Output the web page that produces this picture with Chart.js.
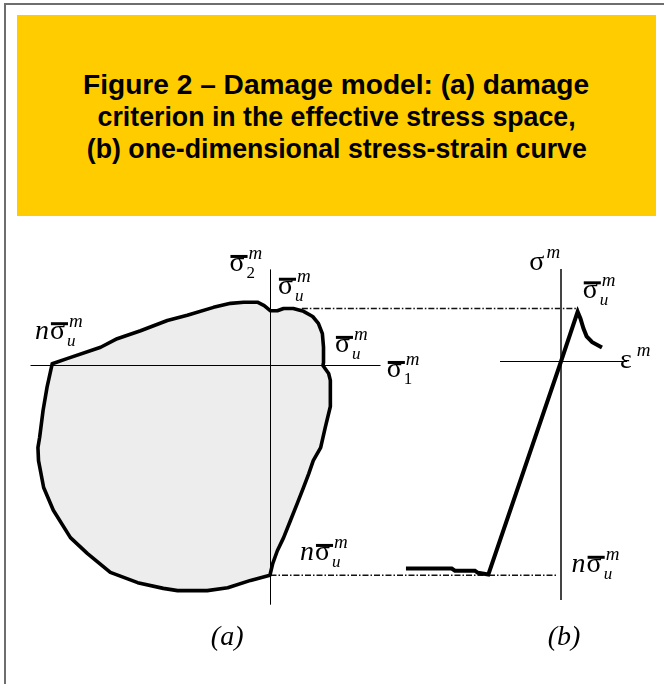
<!DOCTYPE html>
<html>
<head>
<meta charset="utf-8">
<script src="https://cdn.jsdelivr.net/npm/chart.js@4.4.0/dist/chart.umd.min.js"></script>
<style>
  html, body { margin: 0; padding: 0; background: #fff; }
  body { width: 664px; height: 684px; position: relative; overflow: hidden; }
  #frame { position: absolute; left: 4px; top: 3px; width: 720px; height: 720px;
           border-left: 2px solid #6e6e6e; border-top: 2px solid #6e6e6e; }
  #banner { position: absolute; left: 17px; top: 15px; width: 639px; height: 201px; background: #ffcc00; }
  #title { position: absolute; left: 0; top: 54px; width: 100%; text-align: center;
           font: bold 27px "Liberation Sans", Arial, sans-serif; line-height: 32px; color: #000; }
  #title span { display: inline-block; white-space: nowrap; transform-origin: 50% 50%; }
  #plot { position: absolute; left: 0; top: 230px; }
</style>
</head>
<body>
<div id="frame"></div>
<div id="banner">
  <div id="title"><span>Figure 2 – Damage model: (a) damage</span><br><span>criterion in the effective stress space,</span><br><span>(b) one-dimensional stress-strain curve</span></div>
</div>
<canvas id="plot" width="664" height="454"></canvas>
<script>
// (a) damage surface in the effective stress plane, normalised by the tensile strength σ̄u
const surfaceS1 = [-3.83,-3.57,-2.98,-2.69,-2.28,-1.81,-1.46,-1.00,-0.70,-0.47,-0.23,-0.11,0.00,0.12,0.23,0.40,0.58,0.74,0.84,0.91,0.93,0.93,0.92,1.02,1.05,1.05,0.96,0.88,0.75,0.67,0.58,0.47,0.35,0.23,0.12,0.04,-0.01,-0.35,-0.75,-1.11,-1.63,-1.88,-2.33,-2.81,-3.21,-3.51,-3.81,-3.98,-4.07,-4.08,-4.05,-3.99,-3.92,-3.83];
const surfaceS2 = [0.03,0.12,0.32,0.47,0.61,0.79,0.88,1.02,1.09,1.11,1.11,1.05,0.96,0.96,1.00,1.00,0.95,0.86,0.74,0.56,0.32,0.05,0.00,-0.14,-0.26,-0.72,-1.09,-1.44,-1.67,-1.90,-2.14,-2.42,-2.72,-3.02,-3.25,-3.47,-3.68,-3.77,-3.90,-3.95,-3.95,-3.91,-3.81,-3.63,-3.30,-3.02,-2.54,-2.14,-1.67,-1.44,-1.26,-0.79,-0.38,0.03];

// (b) one-dimensional response: strain / ε̄u and stress / σ̄u
const curveStrain = [-9.69,-6.83,-6.63,-5.38,-5.19,-4.54,0.00,1.04,1.22,1.40,1.60,1.95,2.56];
const curveStress = [-3.87,-3.87,-3.91,-3.91,-3.95,-3.98,0.00,0.93,0.80,0.62,0.47,0.36,0.26];

// strength levels (tension σ̄u = 1, compression nσ̄u) and the guide lines joining the panels
const tensionLevel = 1.00;
const compressionLevel = -3.68;
const topGuideS1 = [0.55, 5.40];
const bottomGuideS1 = [0.00, 5.03];

// axis extents
const axisA_S1 = [-4.21, 1.93];
const axisA_S2 = [1.68, -4.19];
const axisB_strain = [-3.81, 4.13];
const axisB_stress = [1.73, -4.46];

const pts = (xs, ys) => xs.map((x, i) => ({ x, y: ys[i] }));

// panel geometry: pixels per unit and origin inside the canvas
const W = 664, H = 454;
const A = { ox: 270.5, oy: 135.5, kx: 57, ky: 57 };
const B = { ox: 561, oy: 131.5, kx: 16, ky: 53.5 };
const rangeX = p => ({ min: -p.ox / p.kx, max: (W - p.ox) / p.kx });
const rangeY = p => ({ min: -(H - p.oy) / p.ky, max: p.oy / p.ky });

const SERIF = '"Liberation Serif", "Times New Roman", serif';

// σ-style symbol with optional prefix, overbar, subscript and superscript
function symbol(ctx, x, y, o) {
  ctx.fillStyle = '#000';
  ctx.textBaseline = 'alphabetic';
  ctx.textAlign = 'left';
  if (o.pre) {
    ctx.font = 'italic 28px ' + SERIF;
    ctx.fillText(o.pre, x - ctx.measureText(o.pre).width - 1, y);
  }
  ctx.font = '28px ' + SERIF;
  const w = ctx.measureText(o.base).width;
  ctx.fillText(o.base, x, y);
  if (o.bar) ctx.fillRect(x + 1, y - 16.5, w + 2, 3);
  if (o.sub) {
    ctx.font = (o.subItalic ? 'italic ' : '') + '17px ' + SERIF;
    ctx.fillText(o.sub, x + w + 2, y + 7);
  }
  if (o.sup) {
    ctx.font = 'italic 19px ' + SERIF;
    ctx.fillText(o.sup, x + w + (o.supGap || 4), y - 12);
  }
}

const labelsA = [
  { x: -0.72, y: 1.65, base: 'σ', bar: true, sub: '2', sup: 'm' },
  { x: 0.13, y: 1.25, base: 'σ', bar: true, sub: 'u', subItalic: true, sup: 'm' },
  { x: -3.87, y: 0.47, pre: 'n', base: 'σ', bar: true, sub: 'u', subItalic: true, sup: 'm' },
  { x: 1.13, y: 0.23, base: 'σ', bar: true, sub: 'u', subItalic: true, sup: 'm' },
  { x: 2.04, y: -0.21, base: 'σ', bar: true, sub: '1', sup: 'm' },
  { x: 0.78, y: -3.42, pre: 'n', base: 'σ', bar: true, sub: 'u', subItalic: true, sup: 'm' }
];
const labelsB = [
  { x: -1.98, y: 1.71, base: 'σ', sup: 'm', supGap: 2 },
  { x: 1.36, y: 1.19, base: 'σ', bar: true, sub: 'u', subItalic: true, sup: 'm' },
  { x: 3.69, y: -0.12, base: 'ε', sup: 'm', supGap: 5 },
  { x: 1.60, y: -3.94, pre: 'n', base: 'σ', bar: true, sub: 'u', subItalic: true, sup: 'm' }
];

const annotations = {
  id: 'annotations',
  afterDatasetsDraw(chart) {
    const { ctx, scales } = chart;
    ctx.save();
    labelsA.forEach(l => symbol(ctx, scales.x.getPixelForValue(l.x), scales.y.getPixelForValue(l.y), l));
    labelsB.forEach(l => symbol(ctx, scales.xb.getPixelForValue(l.x), scales.yb.getPixelForValue(l.y), l));
    ctx.font = 'italic 28px ' + SERIF;
    ctx.textAlign = 'center';
    ctx.fillStyle = '#000';
    ctx.fillText('(a)', scales.x.getPixelForValue(-0.76), scales.y.getPixelForValue(-4.91));
    ctx.fillText('(b)', scales.xb.getPixelForValue(0.19), scales.yb.getPixelForValue(-5.30));
    ctx.restore();
  }
};

const line = (data, extra) => Object.assign({
  data, showLine: true, pointRadius: 0, borderColor: '#000', borderWidth: 1,
  tension: 0, fill: false, xAxisID: 'x', yAxisID: 'y'
}, extra);

const guideStyle = { borderDash: [6, 2, 1.5, 2], borderWidth: 1.5, borderColor: '#111', order: 4 };

new Chart(document.getElementById('plot'), {
  type: 'scatter',
  data: {
    datasets: [
      // (b) stress-strain curve
      line(pts(curveStrain, curveStress), { xAxisID: 'xb', yAxisID: 'yb', borderWidth: 4, borderJoinStyle: 'miter', order: 1 }),
      // axes of (a)
      line(pts(axisA_S1, [0, 0]), { order: 2 }),
      line(pts([0, 0], axisA_S2), { order: 2 }),
      // axes of (b)
      line(pts(axisB_strain, [0, 0]), { xAxisID: 'xb', yAxisID: 'yb', borderWidth: 1, order: 2 }),
      line(pts([0, 0], axisB_stress), { xAxisID: 'xb', yAxisID: 'yb', borderWidth: 2, borderColor: '#444', order: 2 }),
      // damage surface (a)
      line(pts(surfaceS1, surfaceS2), { borderWidth: 3.6, backgroundColor: '#ededed', fill: 'shape',
        borderJoinStyle: 'round', borderCapStyle: 'round', order: 3 }),
      // strength guides
      line(pts(topGuideS1, [tensionLevel, tensionLevel]), guideStyle),
      line(pts(bottomGuideS1, [compressionLevel, compressionLevel]), guideStyle)
    ]
  },
  options: {
    responsive: false,
    animation: false,
    events: [],
    layout: { padding: 0 },
    plugins: { legend: { display: false }, tooltip: { enabled: false }, title: { display: false } },
    scales: {
      x:  Object.assign({ type: 'linear', axis: 'x', display: false }, rangeX(A)),
      y:  Object.assign({ type: 'linear', axis: 'y', display: false }, rangeY(A)),
      xb: Object.assign({ type: 'linear', axis: 'x', display: false }, rangeX(B)),
      yb: Object.assign({ type: 'linear', axis: 'y', display: false }, rangeY(B))
    }
  },
  plugins: [annotations]
});

// fit each title line to its measured width
const titleWidths = [506, 478, 500];
document.querySelectorAll('#title span').forEach((s, i) => {
  const w = s.getBoundingClientRect().width;
  s.style.transform = 'scaleX(' + (titleWidths[i] / w).toFixed(4) + ')';
});
</script>
</body>
</html>
